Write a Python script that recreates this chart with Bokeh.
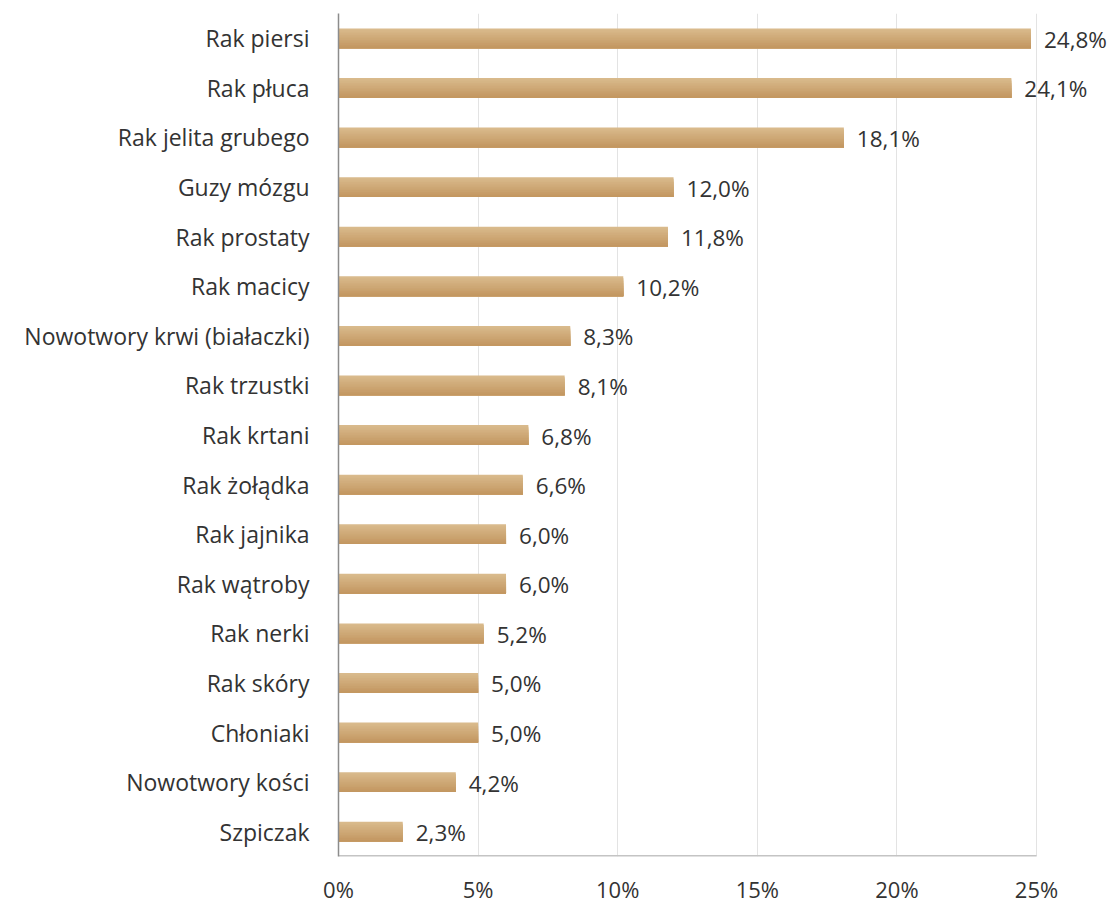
from bokeh.plotting import figure
from bokeh.models import ColumnDataSource, FixedTicker, LabelSet, Range1d
from bokeh.core.properties import value
from bokeh.embed import file_html
from bokeh.resources import INLINE

categories = ["Rak piersi", "Rak płuca", "Rak jelita grubego", "Guzy mózgu", "Rak prostaty",
              "Rak macicy", "Nowotwory krwi (białaczki)", "Rak trzustki", "Rak krtani",
              "Rak żołądka", "Rak jajnika", "Rak wątroby", "Rak nerki", "Rak skóry",
              "Chłoniaki", "Nowotwory kości", "Szpiczak"]
values = [24.8, 24.1, 18.1, 12.0, 11.8, 10.2, 8.3, 8.1, 6.8, 6.6, 6.0, 6.0, 5.2, 5.0, 5.0, 4.2, 2.3]
x_ticks = [0, 5, 10, 15, 20, 25]
x_tick_labels = ["0%", "5%", "10%", "15%", "20%", "25%"]

n = len(categories)
ypos = [n - 1 - i for i in range(n)]
labels = [f"{v:.1f}".replace(".", ",") + "%" for v in values]
FONT = "Open Sans"

W = 1108
LEFT = 338
AXIS_PX = 698.0  # pixel length of 0..25
x_end = 25 * (W - LEFT) / AXIS_PX

p = figure(width=W, height=906, output_backend="svg", toolbar_location=None,
           x_range=Range1d(0, x_end), y_range=Range1d(-0.5, n - 0.5),
           min_border_left=LEFT, min_border_right=0, min_border_top=13, min_border_bottom=40)
p.outline_line_color = None
p.background_fill_color = "white"

# gradient-like bars: nested bars anchored at the bottom, light (top) to darker (bottom)
bar_h = 0.40
steps = 12
top_c = (217, 186, 140)
bot_c = (195, 151, 97)
for k in range(steps):
    t = k / (steps - 1)
    col = tuple(int(round(top_c[j] + (bot_c[j] - top_c[j]) * t)) for j in range(3))
    hex_col = "#%02x%02x%02x" % col
    h = bar_h * (1 - k / steps)
    src = ColumnDataSource(dict(y=[y - bar_h / 2 + h / 2 for y in ypos], right=values))
    p.hbar(y="y", right="right", left=0, height=h, source=src,
           fill_color=hex_col, line_color=None)

# bottom axis line only up to 25%
p.segment(x0=[0], y0=[-0.5], x1=[25], y1=[-0.5], line_color="#c4c4c4", line_width=3)

lsrc = ColumnDataSource(dict(x=values, y=ypos, text=labels))
p.add_layout(LabelSet(x="x", y="y", text="text", source=lsrc, x_offset=13, y_offset=-1,
                      text_baseline="middle", text_font_size="22.5px", text_color="#333333",
                      text_font=value(FONT)))

p.yaxis.ticker = FixedTicker(ticks=ypos)
p.yaxis.major_label_overrides = {y: c for y, c in zip(ypos, categories)}
p.yaxis.major_tick_line_color = None
p.yaxis.minor_tick_line_color = None
p.yaxis.axis_line_color = "#8c8c8c"
p.yaxis.axis_line_width = 1.5
p.yaxis.major_label_text_font = FONT
p.yaxis.major_label_text_font_size = "23px"
p.yaxis.major_label_text_color = "#333333"
p.yaxis.major_label_standoff = 23

p.xaxis.ticker = FixedTicker(ticks=x_ticks)
p.xaxis.major_label_overrides = {t: l for t, l in zip(x_ticks, x_tick_labels)}
p.xaxis.major_tick_line_color = None
p.xaxis.minor_tick_line_color = None
p.xaxis.axis_line_color = None
p.xaxis.major_label_text_font = FONT
p.xaxis.major_label_text_font_size = "22px"
p.xaxis.major_label_text_color = "#333333"
p.xaxis.major_label_standoff = 11

p.ygrid.grid_line_color = None
p.xgrid.grid_line_color = "#e3e3e3"
p.xgrid.grid_line_width = 1

open("out.html", "w").write(file_html(p, INLINE))
